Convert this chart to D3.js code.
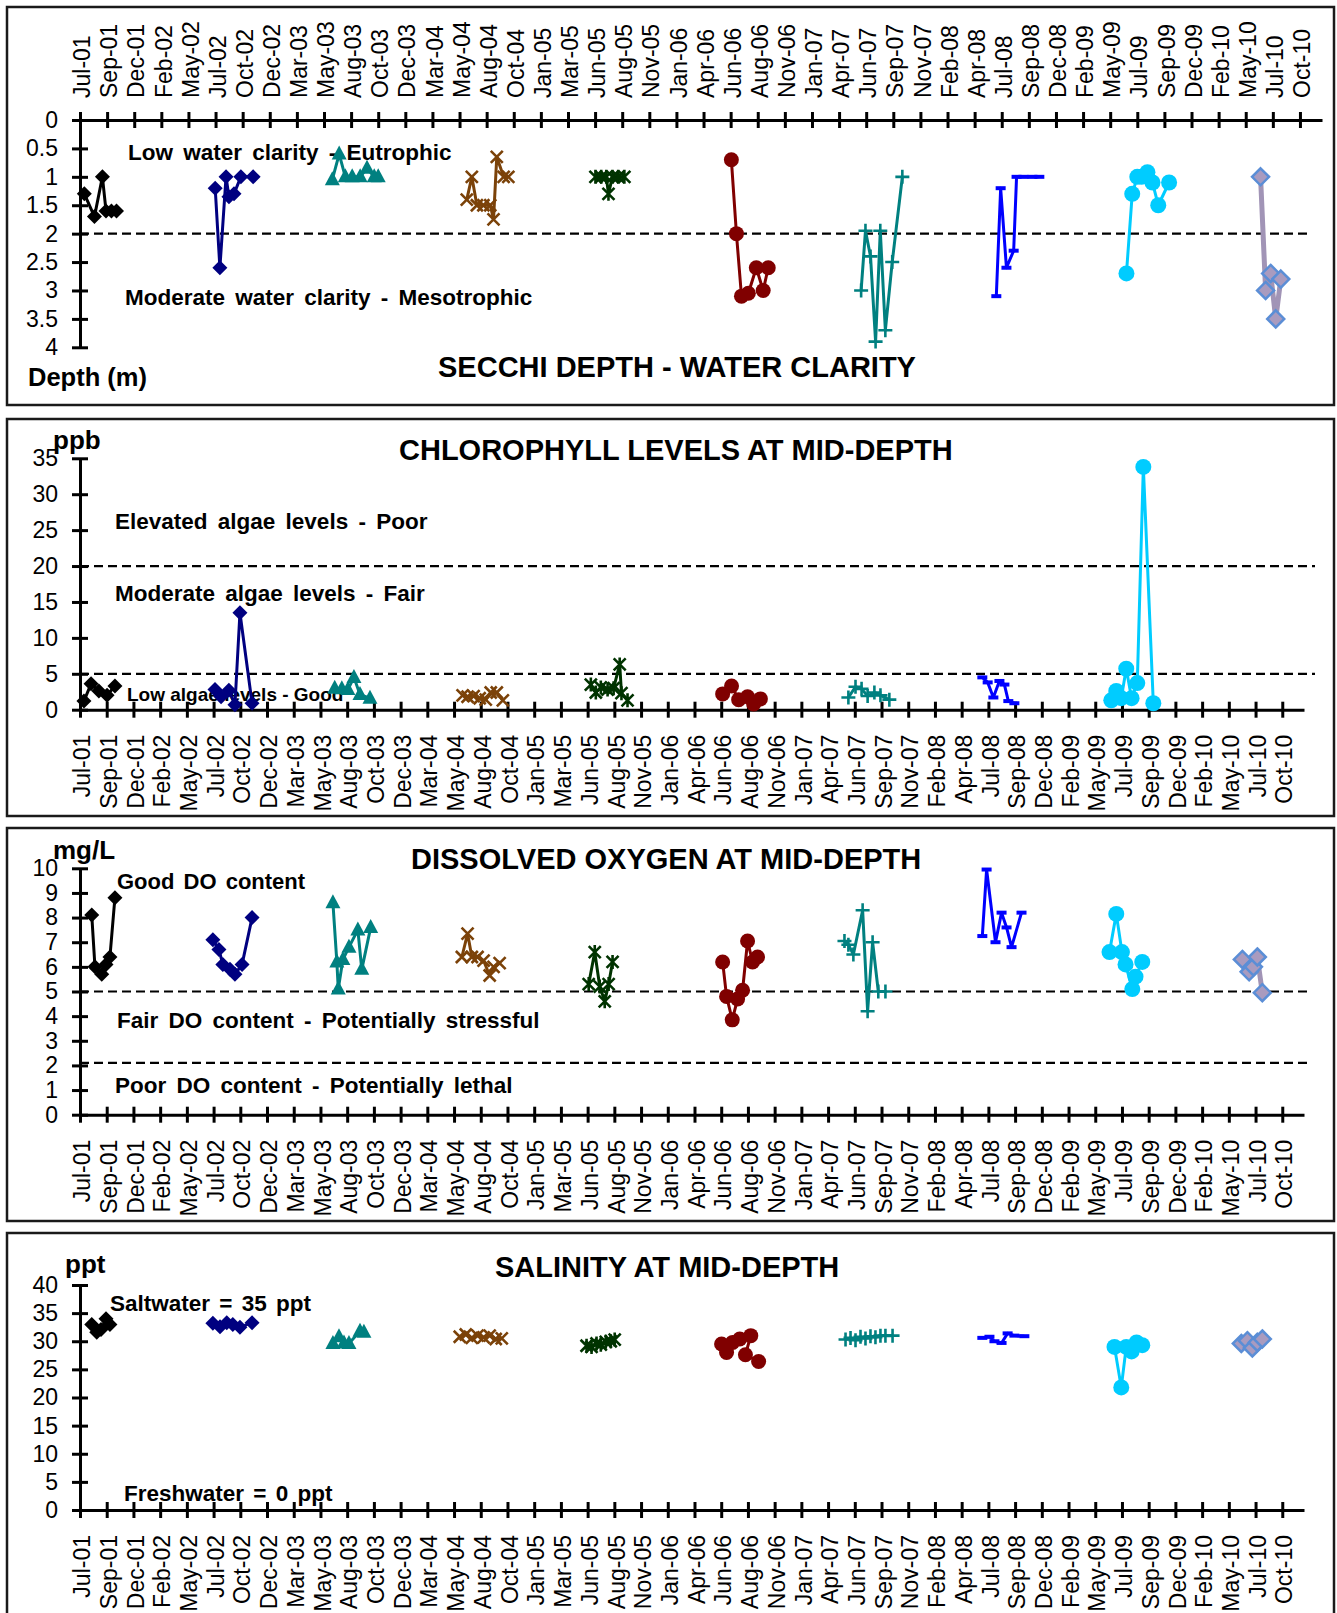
<!DOCTYPE html>
<html>
<head>
<meta charset="utf-8">
<script src="https://cdn.jsdelivr.net/npm/d3@7"></script>
<style>
  body { margin: 0; background: #fff; }
  svg { display: block; font-family: "Liberation Sans", Arial, sans-serif; }
</style>
</head>
<body>
<svg id="chart" width="1337" height="1613"></svg>
<script>
// ---- data ----
const tickLabels = ["Jul-01","Sep-01","Dec-01","Feb-02","May-02","Jul-02","Oct-02","Dec-02","Mar-03","May-03",
  "Aug-03","Oct-03","Dec-03","Mar-04","May-04","Aug-04","Oct-04","Jan-05","Mar-05","Jun-05","Aug-05","Nov-05",
  "Jan-06","Apr-06","Jun-06","Aug-06","Nov-06","Jan-07","Apr-07","Jun-07","Sep-07","Nov-07","Feb-08","Apr-08",
  "Jul-08","Sep-08","Dec-08","Feb-09","May-09","Jul-09","Sep-09","Dec-09","Feb-10","May-10","Jul-10","Oct-10"];

const years = [2001, 2002, 2003, 2004, 2005, 2006, 2007, 2008, 2009, 2010];

const secchiTicks = [0, 0.5, 1, 1.5, 2, 2.5, 3, 3.5, 4];
const chlTicks = [0, 5, 10, 15, 20, 25, 30, 35];
const doTicks = [0, 1, 2, 3, 4, 5, 6, 7, 8, 9, 10];
const salinityTicks = [0, 5, 10, 15, 20, 25, 30, 35, 40];

// Secchi depth (m), one list per year
const secchiData = [
  [["2001-07-25",1.3],["2001-08-22",1.7],["2001-09-13",1.0],["2001-09-23",1.6],["2001-10-08",1.6],["2001-10-22",1.6]],
  [["2002-07-22",1.2],["2002-08-04",2.6],["2002-08-21",1.0],["2002-08-29",1.35],["2002-09-12",1.3],["2002-10-01",1.0],["2002-11-04",1.0]],
  [["2003-06-11",1.05],["2003-06-30",0.6],["2003-07-17",1.0],["2003-08-05",1.0],["2003-08-27",1.0],["2003-09-15",0.85],["2003-10-05",1.0],["2003-10-16",1.0]],
  [["2004-06-17",1.4],["2004-07-01",1.0],["2004-07-15",1.5],["2004-08-02",1.5],["2004-08-21",1.5],["2004-08-30",1.75],["2004-09-08",0.65],["2004-09-27",1.0],["2004-10-10",1.0]],
  [["2005-06-08",1.0],["2005-06-24",1.0],["2005-07-08",1.0],["2005-07-14",1.3],["2005-07-25",1.0],["2005-08-10",1.0],["2005-08-27",1.0]],
  [["2006-06-19",0.7],["2006-07-03",2.0],["2006-07-17",3.1],["2006-08-05",3.05],["2006-08-27",2.6],["2006-09-15",3.0],["2006-09-29",2.6]],
  [["2007-06-13",3.0],["2007-06-25",1.95],["2007-07-09",2.4],["2007-07-23",3.9],["2007-08-05",1.95],["2007-08-19",3.7],["2007-09-07",2.5],["2007-10-05",1.0]],
  [["2008-06-21",3.1],["2008-07-03",1.2],["2008-07-19",2.6],["2008-08-08",2.3],["2008-08-16",1.0],["2008-09-04",1.0],["2008-09-29",1.0],["2008-10-18",1.0]],
  [["2009-06-16",2.7],["2009-07-02",1.3],["2009-07-16",1.0],["2009-07-28",1.0],["2009-08-13",0.92],["2009-08-27",1.1],["2009-09-12",1.5],["2009-10-12",1.1]],
  [["2010-06-22",1.0],["2010-07-06",3.0],["2010-07-20",2.7],["2010-08-03",3.5],["2010-08-17",2.8]]
];

// Chlorophyll (ppb)
const chlData = [
  [["2001-07-24",1.2],["2001-08-13",3.6],["2001-09-04",2.6],["2001-09-27",2.0],["2001-10-19",3.3]],
  [["2002-07-27",2.8],["2002-08-13",1.8],["2002-09-04",2.7],["2002-09-21",0.7],["2002-10-05",13.5],["2002-11-08",0.9]],
  [["2003-06-28",3.0],["2003-07-18",2.9],["2003-08-04",2.8],["2003-08-21",4.5],["2003-09-07",2.1],["2003-10-05",1.6]],
  [["2004-06-21",2.0],["2004-07-05",1.8],["2004-07-22",1.9],["2004-08-08",1.6],["2004-08-25",1.4],["2004-09-08",2.4],["2004-09-25",2.4],["2004-10-12",1.3]],
  [["2005-06-16",3.5],["2005-06-30",2.4],["2005-07-14",3.1],["2005-08-02",2.8],["2005-08-19",3.0],["2005-09-05",6.3],["2005-09-10",2.3],["2005-09-27",1.3]],
  [["2006-06-21",2.2],["2006-07-16",3.3],["2006-08-05",1.4],["2006-08-30",1.8],["2006-09-16",0.8],["2006-10-05",1.5]],
  [["2007-06-09",1.7],["2007-06-29",3.2],["2007-07-16",2.9],["2007-08-02",1.9],["2007-08-21",2.4],["2007-09-07",2.0],["2007-10-02",1.4]],
  [["2008-06-19",4.5],["2008-07-04",3.8],["2008-07-20",1.7],["2008-08-06",4.0],["2008-08-20",3.5],["2008-08-31",1.2],["2008-09-17",0.9]],
  [["2009-06-16",1.3],["2009-06-30",2.6],["2009-07-14",1.6],["2009-07-28",5.7],["2009-08-12",1.6],["2009-08-28",3.7],["2009-09-14",33.8],["2009-10-12",0.9]],
  []
];

// Dissolved oxygen (mg/L)
const doData = [
  [["2001-08-15",8.1],["2001-08-24",6.0],["2001-09-12",5.7],["2001-09-24",6.1],["2001-10-05",6.4],["2001-10-19",8.8]],
  [["2002-07-21",7.1],["2002-08-07",6.7],["2002-08-18",6.1],["2002-09-07",5.9],["2002-09-21",5.7],["2002-10-11",6.1],["2002-11-08",8.0]],
  [["2003-06-23",8.6],["2003-07-04",6.2],["2003-07-08",5.1],["2003-07-21",6.3],["2003-08-07",6.8],["2003-09-01",7.5],["2003-09-12",5.9],["2003-10-07",7.6]],
  [["2004-06-19",6.4],["2004-07-05",7.35],["2004-07-17",6.4],["2004-08-02",6.4],["2004-08-19",6.25],["2004-09-05",5.65],["2004-09-16",6.0],["2004-10-03",6.15]],
  [["2005-06-10",5.3],["2005-06-27",6.6],["2005-07-11",5.2],["2005-07-25",4.6],["2005-08-05",5.3],["2005-08-16",6.2]],
  [["2006-06-21",6.2],["2006-07-02",4.8],["2006-07-18",3.85],["2006-08-02",4.7],["2006-08-16",5.05],["2006-08-30",7.05],["2006-09-13",6.2],["2006-09-27",6.4]],
  [["2007-05-29",7.05],["2007-06-09",6.9],["2007-06-23",6.5],["2007-07-19",8.3],["2007-08-02",4.2],["2007-08-16",7.0],["2007-09-01",5.0],["2007-09-21",5.0]],
  [["2008-06-19",7.25],["2008-07-01",9.95],["2008-07-26",7.0],["2008-08-12",8.2],["2008-08-26",7.6],["2008-09-09",6.8],["2008-10-07",8.2]],
  [["2009-06-11",6.6],["2009-06-30",8.15],["2009-07-16",6.6],["2009-07-26",6.1],["2009-08-14",5.1],["2009-08-23",5.6],["2009-09-11",6.2]],
  [["2010-06-19",6.3],["2010-07-08",5.8],["2010-07-20",6.0],["2010-07-31",6.4],["2010-08-14",4.95]]
];

// Salinity (ppt)
const salinityData = [
  [["2001-08-15",33.0],["2001-08-29",31.6],["2001-09-10",32.1],["2001-09-24",34.0],["2001-10-05",33.0]],
  [["2002-07-21",33.2],["2002-08-10",32.6],["2002-08-29",33.3],["2002-09-15",33.0],["2002-10-05",32.5],["2002-11-08",33.3]],
  [["2003-06-23",29.6],["2003-07-10",30.8],["2003-07-24",29.7],["2003-08-07",29.6],["2003-09-07",31.8],["2003-09-18",31.6]],
  [["2004-06-13",30.8],["2004-06-30",31.2],["2004-07-17",30.6],["2004-08-02",31.0],["2004-08-19",30.7],["2004-09-05",31.0],["2004-09-22",30.4],["2004-10-09",30.5]],
  [["2005-06-04",29.2],["2005-06-18",29.0],["2005-07-02",29.6],["2005-07-14",29.4],["2005-07-28",29.9],["2005-08-11",30.0],["2005-08-22",30.3]],
  [["2006-06-18",29.5],["2006-07-02",28.0],["2006-07-19",29.8],["2006-08-08",30.4],["2006-09-08",31.0],["2006-08-24",27.6],["2006-09-30",26.4]],
  [["2007-06-01",30.3],["2007-06-15",30.6],["2007-06-29",30.2],["2007-07-13",30.8],["2007-07-27",30.5],["2007-08-10",30.9],["2007-08-24",30.7],["2007-09-07",31.0],["2007-09-21",31.0],["2007-10-11",31.0]],
  [["2008-06-19",30.6],["2008-07-09",30.8],["2008-07-23",30.0],["2008-08-12",29.7],["2008-08-29",31.4],["2008-09-17",31.0],["2008-10-15",30.9]],
  [["2009-06-25",29.0],["2009-07-14",21.8],["2009-07-28",29.0],["2009-08-12",28.2],["2009-08-26",29.8],["2009-09-11",29.3]],
  [["2010-06-16",29.6],["2010-07-03",30.1],["2010-07-17",28.8],["2010-07-31",29.8],["2010-08-14",30.4]]
];

// ---- look of each yearly series ----
const seriesStyles = [
  { color: "#000000", marker: "diamond" },
  { color: "#000080", marker: "diamond" },
  { color: "#008080", marker: "triangle" },
  { color: "#7b4209", marker: "x" },
  { color: "#003300", marker: "star" },
  { color: "#800000", marker: "circle", r: 7.5 },
  { color: "#008080", marker: "plus" },
  { color: "#0000ff", marker: "dash" },
  { color: "#00ccff", marker: "circle", r: 8 },
  { color: "#a194b6", marker: "bigdiamond", fill: "#a99bbf", edge: "#5b8ed6", width: 5 }
];

const svg = d3.select("#chart");
const parse = d3.timeParse("%Y-%m-%d");
const startDate = new Date(2001, 6, 13);
const tickDates = tickLabels.map((d, i) => d3.timeDay.offset(startDate, 75 * i));
const endDate = d3.timeDay.offset(startDate, 3436);

const markerPaths = {
  diamond: "M0,-7.5L7.5,0L0,7.5L-7.5,0Z",
  bigdiamond: "M0,-8.5L8.5,0L0,8.5L-8.5,0Z",
  triangle: "M0,-8.5L7.5,5.5L-7.5,5.5Z",
  x: "M-6,-6L6,6M-6,6L6,-6",
  star: "M-6,-6L6,6M-6,6L6,-6M0,-7L0,7",
  plus: "M-7,0L7,0M0,-7L0,7",
  dash: "M-5,0L5,0"
};

function drawMarkers(g, pts, st) {
  const sel = g.selectAll(null).data(pts).enter();
  if (st.marker === "circle") {
    sel.append("circle")
      .attr("cx", d => d.px).attr("cy", d => d.py)
      .attr("r", st.r)
      .attr("fill", st.color);
  } else if (st.marker === "diamond" || st.marker === "triangle") {
    sel.append("path")
      .attr("transform", d => `translate(${d.px},${d.py})`)
      .attr("d", markerPaths[st.marker])
      .attr("fill", st.color);
  } else if (st.marker === "bigdiamond") {
    sel.append("path")
      .attr("transform", d => `translate(${d.px},${d.py})`)
      .attr("d", markerPaths.bigdiamond)
      .attr("fill", st.fill).attr("stroke", st.edge).attr("stroke-width", 2.5);
  } else {
    sel.append("path")
      .attr("transform", d => `translate(${d.px},${d.py})`)
      .attr("d", markerPaths[st.marker])
      .attr("fill", "none").attr("stroke", st.color)
      .attr("stroke-width", st.marker === "dash" ? 4 : 2.6);
  }
}

function drawPanel(p) {
  const g = svg.append("g");

  g.append("rect")
    .attr("x", 7).attr("y", p.box[0])
    .attr("width", 1327).attr("height", p.box[1] - p.box[0])
    .attr("fill", "none").attr("stroke", "#1a1a1a").attr("stroke-width", 2.5);

  const x = d3.scaleTime().domain([startDate, endDate]).range([80, p.xRight]);
  const y = d3.scaleLinear().domain([p.ticks[0], p.ticks[p.ticks.length - 1]]).range(p.yRange);

  // threshold lines
  p.refLines.forEach(v => {
    g.append("line")
      .attr("x1", 80).attr("x2", p.refRight)
      .attr("y1", y(v)).attr("y2", y(v))
      .attr("stroke", "#000").attr("stroke-width", 2.2)
      .attr("stroke-dasharray", "9,5");
  });

  // text notes
  p.notes.forEach(n => {
    g.append("text")
      .attr("x", n.x).attr("y", n.y)
      .attr("font-size", n.size).attr("font-weight", "bold")
      .attr("word-spacing", n.ws || 0)
      .attr("fill", "#000")
      .text(n.text);
  });

  // y axis
  const yAxis = d3.axisLeft(y).tickValues(p.ticks).tickFormat(d3.format("~g"))
    .tickSize(8).tickSizeOuter(0).tickPadding(14);
  const ya = g.append("g").attr("transform", "translate(80,0)").call(yAxis);

  // x axis
  const xAxisFn = p.topAxis ? d3.axisTop(x) : d3.axisBottom(x);
  xAxisFn.tickValues(tickDates).tickFormat((d, i) => tickLabels[i]).tickSize(8).tickSizeOuter(0);
  const xa = g.append("g").attr("transform", `translate(0,${y(0)})`).call(xAxisFn);

  [ya, xa].forEach(a => {
    a.attr("font-family", null).attr("font-size", null);
    a.select(".domain").attr("stroke", "#000").attr("stroke-width", 3);
    a.selectAll(".tick line").attr("stroke", "#000").attr("stroke-width", 3);
    a.selectAll(".tick text").attr("font-size", 23).attr("fill", "#000");
  });
  ya.selectAll(".tick line").attr("x1", 8);
  if (p.topAxis) {
    xa.selectAll(".tick line").attr("y1", 8);
    xa.selectAll(".tick text")
      .attr("y", null).attr("dy", "0.42em")
      .attr("text-anchor", "start")
      .attr("transform", "translate(0,-22) rotate(-90)");
  } else {
    xa.selectAll(".tick line").attr("y1", -8);
    xa.selectAll(".tick text")
      .attr("y", null).attr("dy", "0.42em")
      .attr("text-anchor", "end")
      .attr("transform", "translate(0,25) rotate(-90)");
  }

  // yearly series
  const line = d3.line().x(d => d.px).y(d => d.py);
  p.data.forEach((rows, i) => {
    if (!rows.length) return;
    const st = seriesStyles[i];
    const pts = rows.map(r => ({ date: parse(r[0]), value: r[1] }));
    pts.forEach(d => { d.px = x(d.date); d.py = y(d.value); });
    const sg = g.append("g").attr("class", "year-" + years[i]);
    sg.append("path")
      .attr("d", line(pts))
      .attr("fill", "none").attr("stroke", st.color)
      .attr("stroke-width", st.width || 3)
      .attr("stroke-linejoin", "round");
    drawMarkers(sg, pts, st);
  });

  // titles
  p.titles.forEach(t => {
    g.append("text")
      .attr("x", t.x).attr("y", t.y)
      .attr("font-size", t.size).attr("font-weight", "bold")
      .attr("fill", "#000")
      .text(t.text);
  });
}

const panels = [
  {
    data: secchiData, ticks: secchiTicks, box: [7, 405], yRange: [120, 347.3],
    topAxis: true, xRight: 1322, refLines: [2], refRight: 1312,
    notes: [
      { text: "Low water clarity - Eutrophic", x: 128, y: 160, size: 22.5, ws: 4 },
      { text: "Moderate water clarity - Mesotrophic", x: 125, y: 305, size: 22.5, ws: 4 }
    ],
    titles: [
      { text: "SECCHI DEPTH - WATER CLARITY", x: 438, y: 377, size: 29 },
      { text: "Depth (m)", x: 28, y: 386, size: 25.5 }
    ]
  },
  {
    data: chlData, ticks: chlTicks, box: [419, 816], yRange: [709.7, 458.3],
    topAxis: false, xRight: 1304, refLines: [20, 5], refRight: 1315,
    notes: [
      { text: "Elevated algae levels - Poor", x: 115, y: 529, size: 22.5, ws: 4 },
      { text: "Moderate algae levels - Fair", x: 115, y: 601, size: 22.5, ws: 4 },
      { text: "Low algae levels - Good", x: 127, y: 701, size: 19, ws: 0 }
    ],
    titles: [
      { text: "CHLOROPHYLL LEVELS AT MID-DEPTH", x: 399, y: 460, size: 29 },
      { text: "ppb", x: 53, y: 449, size: 26 }
    ]
  },
  {
    data: doData, ticks: doTicks, box: [828, 1221], yRange: [1114.7, 868.3],
    topAxis: false, xRight: 1304, refLines: [5, 2.1], refRight: 1312,
    notes: [
      { text: "Good DO content", x: 117, y: 889, size: 22, ws: 3 },
      { text: "Fair DO content - Potentially stressful", x: 117, y: 1028, size: 22.5, ws: 4 },
      { text: "Poor DO content - Potentially lethal", x: 115, y: 1093, size: 22.5, ws: 4 }
    ],
    titles: [
      { text: "DISSOLVED OXYGEN AT MID-DEPTH", x: 411, y: 869, size: 29 },
      { text: "mg/L", x: 53, y: 859, size: 26 }
    ]
  },
  {
    data: salinityData, ticks: salinityTicks, box: [1233, 1640], yRange: [1510, 1285],
    topAxis: false, xRight: 1304, refLines: [], refRight: 1312,
    notes: [
      { text: "Saltwater = 35 ppt", x: 110, y: 1311, size: 22.5, ws: 3 },
      { text: "Freshwater = 0 ppt", x: 124, y: 1501, size: 22.5, ws: 3 }
    ],
    titles: [
      { text: "SALINITY AT MID-DEPTH", x: 495, y: 1277, size: 29 },
      { text: "ppt", x: 65, y: 1273, size: 26 }
    ]
  }
];

panels.forEach(drawPanel);
</script>
</body>
</html>
